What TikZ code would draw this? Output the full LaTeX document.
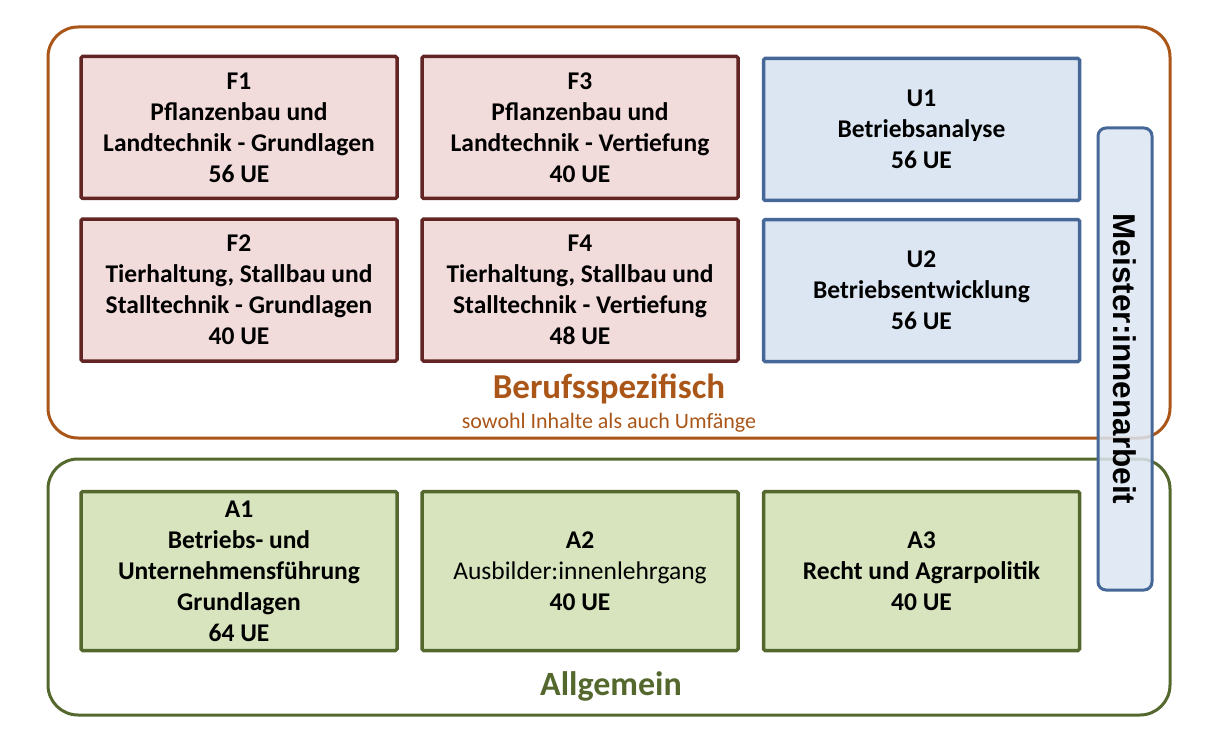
\documentclass[tikz,border=0pt]{standalone}
\usepackage{fontspec}
\setmainfont{Carlito}
\newfontfamily\arialfont{Liberation Sans}
\definecolor{orangeline}{RGB}{170,86,24}
\definecolor{redline}{RGB}{99,37,35}
\definecolor{redfill}{RGB}{242,220,219}
\definecolor{blueline}{RGB}{70,104,152}
\definecolor{bluefill}{RGB}{220,230,242}
\definecolor{greenline}{RGB}{84,104,46}
\definecolor{greenfill}{RGB}{215,228,189}
\begin{document}
\begin{tikzpicture}[x=1pt,y=-1pt,
  modbox/.style={draw, line width=3.5pt, rounded corners=1.5pt, align=center,
    inner sep=0pt, font=\fontsize{25.5}{31}\selectfont\bfseries},
  fbox/.style={modbox, draw=redline, fill=redfill, minimum width=316pt, minimum height=142pt},
  ubox/.style={modbox, draw=blueline, fill=bluefill, minimum width=316pt, minimum height=142pt},
  abox/.style={modbox, draw=greenline, fill=greenfill, minimum width=316pt, minimum height=159pt}]

\useasboundingbox (0,0) rectangle (1211,733);

% outer groups
\draw[orangeline, line width=3pt, rounded corners=30pt] (48,27) rectangle (1170,438);
\draw[greenline, line width=3pt, rounded corners=30pt] (48,459) rectangle (1170,715);

% Berufsspezifisch
\node[fbox] (f1) at (239,127.5) {F1\\Pflanzenbau und\\Landtechnik - Grundlagen\\56 UE};
\node[fbox] (f2) at (239,290) {F2\\Tierhaltung, Stallbau und\\Stalltechnik - Grundlagen\\40 UE};
\node[fbox] (f3) at (580,127.5) {F3\\Pflanzenbau und\\Landtechnik - Vertiefung\\40 UE};
\node[fbox] (f4) at (580,290) {F4\\Tierhaltung, Stallbau und\\Stalltechnik - Vertiefung\\48 UE};
\node[ubox] (u1) at (921.5,129.5) {U1\\Betriebsanalyse\\56 UE};
\node[ubox] (u2) at (921.5,290.5) {U2\\Betriebsentwicklung\\56 UE};

\node[orangeline, font=\fontsize{35}{37}\selectfont\bfseries] (beruf) at (609,389) {Berufsspezifisch};
\node[orangeline, font=\fontsize{22}{24}\selectfont] (umfang) at (609,423) {sowohl Inhalte als auch Umfänge};

% Allgemein
\node[abox] (a1) at (239,571) {A1\\Betriebs- und\\Unternehmensführung\\Grundlagen\\64 UE};
\node[abox] (a2) at (580,571) {A2\\{\mdseries Ausbilder:innenlehrgang}\\40 UE};
\node[abox] (a3) at (921.5,571) {A3\\Recht und Agrarpolitik\\40 UE};

\node[greenline, font=\fontsize{34}{36}\selectfont\bfseries] (allg) at (611,686) {Allgemein};

% Meister:innenarbeit
\node[draw=blueline, fill=bluefill, fill opacity=0.85, text opacity=1, line width=3pt,
  rounded corners=8pt, minimum width=54pt, minimum height=462pt, inner sep=0pt]
  (meister) at (1125,359) {};
\node[rotate=-90, font=\arialfont\fontsize{31.5}{33}\selectfont\bfseries] (meistertext) at (meister.center) {Meister:innenarbeit};

\end{tikzpicture}
\end{document}
